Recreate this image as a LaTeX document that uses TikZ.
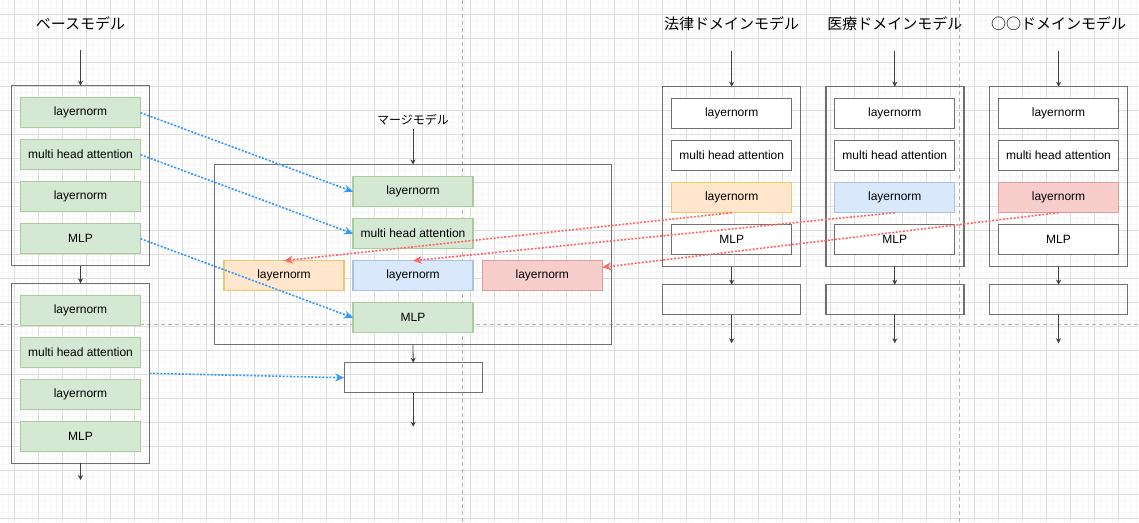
\documentclass[tikz,border=0pt]{standalone}
\usepackage{fontspec}
\setmainfont{Liberation Sans}
\newfontfamily\jp{Noto Sans CJK JP}
\usetikzlibrary{arrows.meta}
\definecolor{gfill}{HTML}{D5E8D4}\definecolor{gline}{HTML}{AACB9A}
\definecolor{ofill}{HTML}{FFE6CC}\definecolor{oline}{HTML}{EEC571}
\definecolor{bfill}{HTML}{DAE8FC}\definecolor{bline}{HTML}{A9C2E3}
\definecolor{rfill}{HTML}{F8CECC}\definecolor{rline}{HTML}{DB9C9A}
\definecolor{boxline}{HTML}{707070}
\definecolor{blueflow}{HTML}{3399FF}
\definecolor{redflow}{HTML}{FF6666}
\tikzset{
 blk/.style={minimum width=120pt,minimum height=30pt,inner sep=0pt,outer sep=0pt,line width=1.2pt,font=\fontsize{12}{14}\selectfont},
 gbox/.style={blk,draw=gline,fill=gfill},
 obox/.style={blk,draw=oline,fill=ofill},
 bbox/.style={blk,draw=bline,fill=bfill},
 rbox/.style={blk,draw=rline,fill=rfill},
 wbox/.style={blk,draw=boxline,fill=white},
 modelbox/.style={draw=boxline,line width=1.4pt,minimum width=138pt,minimum height=180pt,inner sep=0pt,outer sep=0pt},
 outbox/.style={modelbox,minimum height=30pt},
 ttl/.style={font=\jp\fontsize{15}{18}\selectfont,inner sep=0pt},
 flow/.style={-{Stealth[length=5pt,width=5pt,inset=1.5pt]},draw=black!75,line width=0.8pt},
 copyb/.style={-{Stealth[length=9pt,width=8pt,inset=3pt]},draw=blueflow,line width=1.6pt,dash pattern=on 2pt off 1.6pt},
 copyr/.style={-{Stealth[length=9pt,width=8pt,inset=3pt]},draw=redflow,line width=1.6pt,dash pattern=on 2pt off 1.6pt},
 gminor/.style={draw=black!4,line width=0.5pt},
 gmajor/.style={draw=black!13,line width=0.8pt},
 pagebreak/.style={draw=black!30,line width=0.8pt,dash pattern=on 4pt off 3pt}
}
\begin{document}
\begin{tikzpicture}[x=1pt,y=-1pt]
 \fill[white] (0,0) rectangle (1139,522);
 \useasboundingbox (0,0) rectangle (1139,522);
 %グリッド
 \foreach \x in {2,8,...,1136} \draw[gminor] (\x,0)--(\x,522);
 \foreach \y in {2,8,...,520} \draw[gminor] (0,\y)--(1139,\y);
 \foreach \x in {14,38,...,1134} \draw[gmajor] (\x,0)--(\x,522);
 \foreach \y in {14,38,...,518} \draw[gmajor] (0,\y)--(1139,\y);
 \draw[pagebreak] (462.3,0)--(462.3,522) (959.3,0)--(959.3,522) (0,324.3)--(1139,324.3); %改ページ

 %ベースモデル
 \node[ttl] (bt) at (80.5,24) {ベースモデル};
 \coordinate (bin) at (80.5,50);
 \node[modelbox] (b1) at (80.5,175.7) {};
 \node[gbox] (b1a) at (80.5,112.7) {layernorm};
 \node[gbox] (b1b) at (80.5,154.7) {multi head attention};
 \node[gbox] (b1c) at (80.5,196.7) {layernorm};
 \node[gbox] (b1d) at (80.5,238.7) {MLP};
 \node[modelbox] (b2) at (80.5,373.3) {};
 \node[gbox] (b2a) at (80.5,310.3) {layernorm};
 \node[gbox] (b2b) at (80.5,352.3) {multi head attention};
 \node[gbox] (b2c) at (80.5,394.3) {layernorm};
 \node[gbox] (b2d) at (80.5,436.3) {MLP};
 \coordinate (bout) at (80.5,480);
 \draw[flow] (bin)--(b1.north);
 \draw[flow] (b1.south)--(b2.north);
 \draw[flow] (b2.south)--(bout);

 %マージモデル
 \node[ttl,font=\jp\fontsize{12}{14}\selectfont] (mt) at (413,120) {マージモデル};
 \coordinate (min) at (413,129);
 \node[modelbox,minimum width=397pt] (m) at (413,254.5) {};
 \node[gbox] (m1) at (413,191.7) {layernorm};
 \node[gbox] (m2) at (413,233.7) {multi head attention};
 \node[obox] (mo) at (284,275.7) {layernorm};
 \node[bbox] (mb) at (413,275.7) {layernorm};
 \node[rbox] (mr) at (542.3,275.7) {layernorm};
 \node[gbox] (m4) at (413,317.7) {MLP};
 \node[outbox] (mx) at (413.2,377.7) {};
 \coordinate (mout) at (413.2,426.7);
 \draw[flow] (min)--(m.north);
 \draw[flow] (m.south)--(mx.north);
 \draw[flow] (mx.south)--(mout);

 %ドメインモデル
 \foreach \nm/\cx/\ttl/\sty in {law/731.7/法律ドメインモデル/obox,med/894.8/医療ドメインモデル/bbox,oo/1058.5/○○ドメインモデル/rbox}{
  \node[ttl] (\nm-t) at (\cx,24) {\ttl};
  \coordinate (\nm-in) at (\cx,50.7);
  \node[modelbox] (\nm) at (\cx,176.7) {};
  \node[wbox] (\nm1) at (\cx,113.7) {layernorm};
  \node[wbox] (\nm2) at (\cx,155.7) {multi head attention};
  \node[\sty] (\nm3) at (\cx,197.7) {layernorm};
  \node[wbox] (\nm4) at (\cx,239.7) {MLP};
  \node[outbox] (\nm-o) at (\cx,299.7) {};
  \coordinate (\nm-out) at (\cx,343.3);
  \draw[flow] (\nm-in)--(\nm.north);
  \draw[flow] (\nm.south)--(\nm-o.north);
  \draw[flow] (\nm-o.south)--(\nm-out);
 }

 %コピー
 \draw[copyb] (b1a.east)--(m1.west);
 \draw[copyb] (b1b.east)--(m2.west);
 \draw[copyb] (b1d.east)--(m4.west);
 \draw[copyb] (b2.east)--(mx.west);
 \draw[copyr] (law3.south)--(mo.north);
 \draw[copyr] (med3.south)--(mb.north);
 \draw[copyr] (oo3.south)--([yshift=8.4pt]mr.east);
\end{tikzpicture}
\end{document}
